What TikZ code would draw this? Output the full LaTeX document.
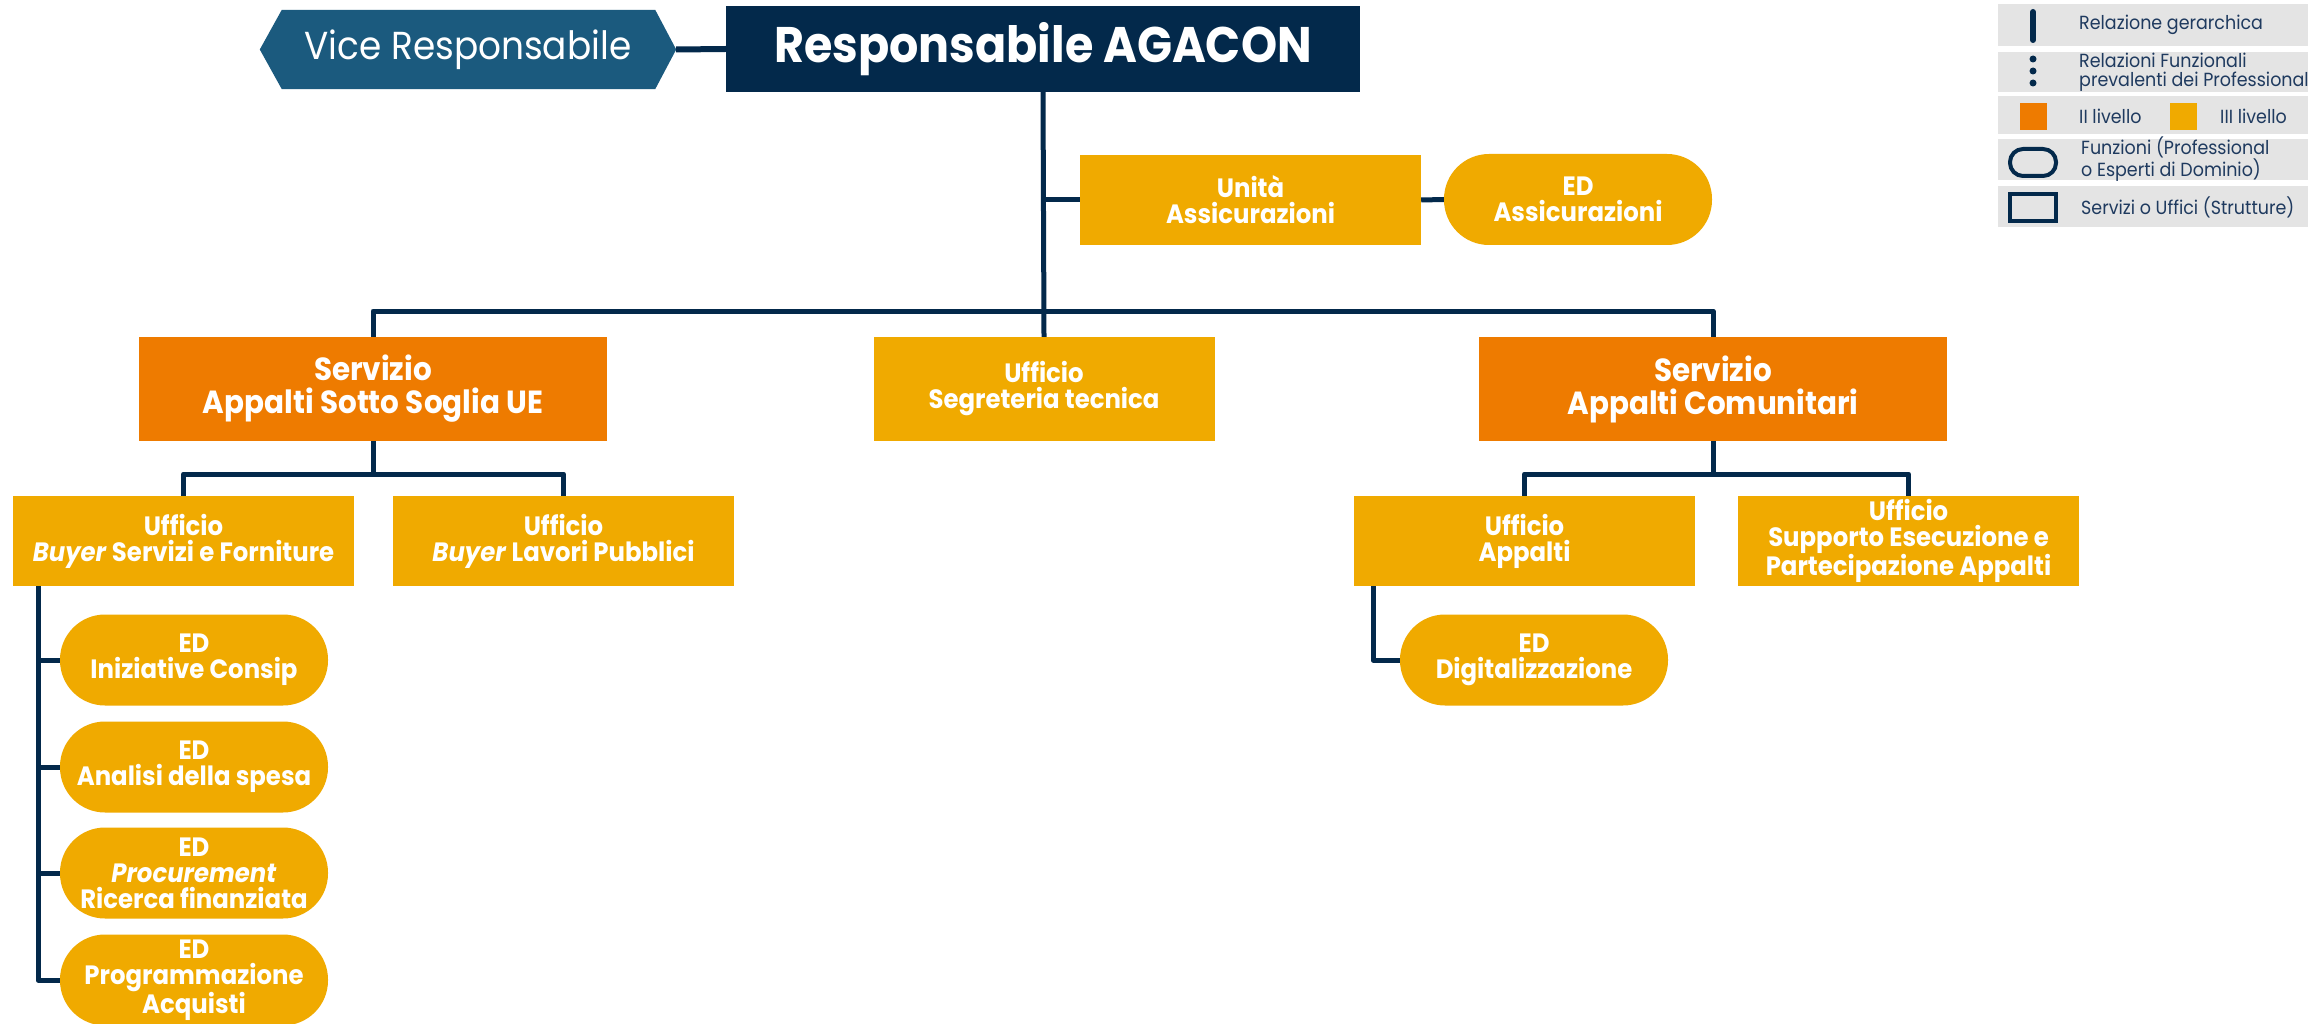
\documentclass[tikz,border=0pt]{standalone}
\usepackage{fontspec}
\setmainfont[FakeStretch=0.92]{Poppins}
\usetikzlibrary{backgrounds}
\definecolor{navy}{HTML}{03294B}
\definecolor{vicecol}{HTML}{1B5A7E}
\definecolor{orangeII}{HTML}{EE7B00}
\definecolor{yellowIII}{HTML}{F0AA00}
\definecolor{leggray}{HTML}{E4E4E4}
\definecolor{legtext}{HTML}{1F3A5F}
\tikzset{
  conn/.style={draw=navy, line width=5pt, line join=round},
  boxtwo/.style={rectangle, fill=orangeII, text=white, font=\bfseries\fontsize{32}{33}\selectfont, align=center, minimum width=468pt, minimum height=104pt, inner sep=0pt},
  boxthree/.style={rectangle, fill=yellowIII, text=white, font=\bfseries\fontsize{26.5}{26}\selectfont, align=center, minimum width=341pt, minimum height=90pt, inner sep=0pt},
  pill/.style={boxthree, rounded corners=45pt, minimum width=268pt, minimum height=91pt},
  legrow/.style={fill=leggray},
  legtxt/.style={anchor=west, text=legtext, font=\fontsize{19}{19}\selectfont, align=left, inner sep=0pt},
}
\begin{document}
\begin{tikzpicture}[x=1pt, y=-1pt]
\useasboundingbox (0,0) rectangle (2315,1024);

% top
\node[rectangle, fill=navy, text=white, minimum width=634pt, minimum height=86pt, inner sep=0pt,
      font=\bfseries\fontsize{50}{54}\selectfont] (resp) at (1043,49) {Responsabile AGACON};
\node[rectangle, minimum width=416pt, minimum height=79pt, inner sep=0pt, text=white,
      font=\fontsize{39}{42}\selectfont] (vice) at (468,49.5) {Vice Responsabile};
\begin{scope}[on background layer]
\fill[white] (0,0) rectangle (2315,1024);
\fill[vicecol] (vice.west) -- ([xshift=22pt]vice.north west) -- ([xshift=-21pt]vice.north east)
  -- (vice.east) -- ([xshift=-21pt]vice.south east) -- ([xshift=22pt]vice.south west) -- cycle;
\end{scope}
\draw[conn, line width=6pt] (vice.east) -- (resp.west);

\node[boxthree] (unita) at (1250.5,200) {Unità\\Assicurazioni};
\node[pill] (edass) at (1578,199.5) {ED\\Assicurazioni};

\coordinate (bar) at (0,311);
\node[boxtwo] (sotto) at (373,389) {Servizio\\Appalti Sotto Soglia UE};
\node[boxthree, minimum height=104pt] (segr) at (1044,389) {Ufficio\\Segreteria tecnica};
\node[boxtwo] (comu) at (1713,389) {Servizio\\Appalti Comunitari};

\coordinate (bartwo) at (0,474);
\node[boxthree] (buysf) at (183.5,541) {Ufficio\\\textit{Buyer} Servizi e Forniture};
\node[boxthree] (buylp) at (563.5,541) {Ufficio\\\textit{Buyer} Lavori Pubblici};
\node[boxthree] (appalti) at (1524.5,541) {Ufficio\\Appalti};
\node[boxthree] (supp) at (1908.5,541) {Ufficio\\Supporto Esecuzione e\\Partecipazione Appalti};

\node[pill] (edcons) at (194,660) {ED\\Iniziative Consip};
\node[pill] (edanal) at (194,767) {ED\\Analisi della spesa};
\node[pill] (edproc) at (194,873) {ED\\\textit{Procurement}\\Ricerca finanziata};
\node[pill] (edprog) at (194,980) {ED\\Programmazione\\Acquisti};
\node[pill] (eddig) at (1534,660) {ED\\Digitalizzazione};

\coordinate (lline) at (38,0);
\coordinate (rline) at (1373,0);

% connectors
\draw[conn] (resp.south) -- (segr.north);
\draw[conn] (unita.west) -- (unita.west -| resp.south);
\draw[conn] (unita.east) -- (edass.west);
\draw[conn] (sotto.north) -- (sotto.north |- bar) -- (comu.north |- bar) -- (comu.north);
\draw[conn] (sotto.south) -- (sotto.south |- bartwo);
\draw[conn] (buysf.north) -- (buysf.north |- bartwo) -- (buylp.north |- bartwo) -- (buylp.north);
\draw[conn] (comu.south) -- (comu.south |- bartwo);
\draw[conn] (appalti.north) -- (appalti.north |- bartwo) -- (supp.north |- bartwo) -- (supp.north);
\draw[conn] (lline |- buysf.south) -- (lline |- edprog.west) -- (edprog.west);
\draw[conn] (lline |- edcons.west) -- (edcons.west);
\draw[conn] (lline |- edanal.west) -- (edanal.west);
\draw[conn] (lline |- edproc.west) -- (edproc.west);
\draw[conn] (rline |- appalti.south) -- (rline |- eddig.west) -- (eddig.west);

% legend
\fill[legrow] (1998,4) rectangle (2308,46);
\fill[legrow] (1998,52) rectangle (2308,92);
\fill[legrow] (1998,96) rectangle (2308,134);
\fill[legrow] (1998,139) rectangle (2308,180);
\fill[legrow] (1998,186) rectangle (2308,227);
\draw[navy, line width=6pt, line cap=round] (2033,12) -- (2033,40);
\fill[navy] (2033,59) circle (3.5pt) (2033,71) circle (3.5pt) (2033,83) circle (3.5pt);
\fill[orangeII] (2020,103) rectangle (2047,130);
\fill[yellowIII] (2170,103) rectangle (2197,130);
\draw[navy, line width=4pt, rounded corners=13pt] (2010,149) rectangle (2056,176);
\draw[navy, line width=4pt] (2010,194) rectangle (2056,221);
\node[legtxt] (lgone) at (2079,25) {Relazione gerarchica};
\node[legtxt] (lgtwo) at (2079,72) {Relazioni Funzionali\\prevalenti dei Professional};
\node[legtxt] (lgthree) at (2079,116) {II livello};
\node[legtxt] (lgfour) at (2220,116) {III livello};
\node[legtxt] (lgfive) at (2081,159) {Funzioni (Professional\\o Esperti di Dominio)};
\node[legtxt] (lgsix) at (2081,207) {Servizi o Uffici (Strutture)};
\end{tikzpicture}
\end{document}
